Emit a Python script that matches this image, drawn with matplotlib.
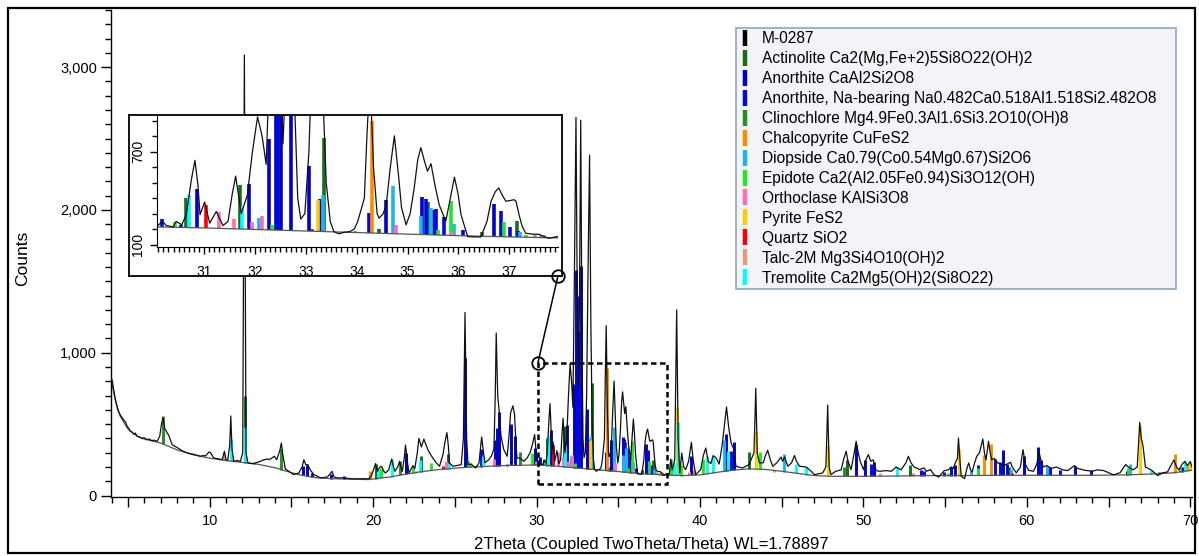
import numpy as np
import matplotlib
matplotlib.use('Agg')
import matplotlib.pyplot as plt
from matplotlib.patches import Rectangle, ConnectionPatch
from matplotlib.lines import Line2D
from matplotlib.ticker import MultipleLocator, FuncFormatter, FixedLocator

plt.rcParams['font.family'] = ['Liberation Sans', 'DejaVu Sans']

pattern_2theta = [
    3.96, 4.05, 4.12, 4.25, 4.37, 4.55, 4.73, 4.85, 4.95, 5.05, 5.14, 5.25, 5.35, 5.45, 5.55, 5.7, 5.85, 6.0,
    6.16, 6.3, 6.45, 6.6, 6.78, 6.94, 7.05, 7.14, 7.25, 7.39, 7.5, 7.7, 7.95, 8.1, 8.21, 8.35, 8.5, 8.65, 8.82,
    9.0, 9.1, 9.25, 9.43, 9.6, 9.75, 9.95, 10.05, 10.25, 10.5, 10.76, 10.9, 11.0, 11.1, 11.22, 11.29, 11.36,
    11.47, 11.7, 11.88, 12.02, 12.12, 12.22, 12.34, 12.5, 12.7, 12.9, 13.1, 13.3, 13.5, 13.65, 13.8, 13.95,
    14.1, 14.3, 14.38, 14.48, 14.63, 14.9, 15.14, 15.45, 15.65, 15.76, 15.88, 16.0, 16.15, 16.37, 16.78,
    17.2, 17.49, 17.6, 17.8, 18.2, 18.6, 19.0, 19.4, 19.73, 19.9, 20.05, 20.15, 20.25, 20.31, 20.42, 20.52,
    20.65, 20.76, 20.95, 21.13, 21.25, 21.33, 21.5, 21.62, 21.7, 21.78, 21.9, 21.98, 22.08, 22.19, 22.3,
    22.43, 22.55, 22.7, 22.8, 22.95, 23.1, 23.25, 23.35, 23.5, 23.65, 23.86, 24.06, 24.27, 24.4, 24.51,
    24.6, 24.67, 24.88, 25.1, 25.39, 25.52, 25.62, 25.72, 25.8, 26.0, 26.27, 26.48, 26.58, 26.64, 26.72,
    26.84, 27.08, 27.25, 27.39, 27.47, 27.53, 27.62, 27.72, 27.82, 27.99, 28.2, 28.3, 28.41, 28.55, 28.65,
    28.72, 28.8, 29.01, 29.22, 29.42, 29.6, 29.75, 29.88, 29.96, 30.04,
    30.09, 30.18, 30.26, 30.39, 30.45, 30.56, 30.65, 30.75, 30.82, 30.88, 30.92, 31.01, 31.11, 31.24,
    31.37, 31.47, 31.55, 31.62, 31.73, 31.85, 31.95, 32.05, 32.14, 32.22, 32.30, 32.41, 32.48, 32.55,
    32.62, 32.70, 32.78, 32.84, 32.90, 32.98, 33.06, 33.15, 33.24, 33.32, 33.40, 33.48, 33.55, 33.65,
    33.75, 33.86, 33.95, 34.02, 34.15, 34.20, 34.26, 34.33, 34.40, 34.44, 34.52, 34.58, 34.66, 34.74,
    34.82, 34.88, 34.97, 35.05, 35.13, 35.20, 35.26, 35.33, 35.39, 35.46, 35.54, 35.62, 35.75, 35.84,
    35.92, 35.99, 36.05, 36.18, 36.31, 36.44, 36.56, 36.64, 36.72, 36.79, 36.86, 36.93, 37.02, 37.09,
    37.13, 37.19, 37.25, 37.32, 37.45, 37.58, 37.70, 37.78, 37.93,
    38.11, 38.21, 38.3, 38.45, 38.57, 38.66, 38.76, 38.88, 39.0, 39.12, 39.3, 39.47, 39.58, 39.73, 40.04,
    40.2, 40.35, 40.5, 40.66, 40.8, 40.97, 41.17, 41.35, 41.5, 41.62, 41.75, 41.9, 42.05, 42.2, 42.6,
    43.0, 43.3, 43.41, 43.5, 43.63, 43.87, 44.0, 44.14, 44.3, 44.45, 44.7, 44.96, 45.05, 45.17, 45.37,
    45.6, 45.78, 45.9, 46.09, 46.5, 46.8, 47.0, 47.5, 47.7, 47.81, 47.9, 48.01, 48.3, 48.63, 48.8, 48.94,
    49.05, 49.24, 49.4, 49.55, 49.68, 49.8, 50.0, 50.15, 50.3, 50.45, 50.6, 50.77, 51.0, 51.4, 51.7,
    52.0, 52.3, 52.6, 52.75, 52.9, 53.1, 53.3, 53.42, 53.7, 53.85, 54.1, 54.3, 54.6, 54.95, 55.2, 55.36,
    55.5, 55.62, 55.75, 55.81, 55.9, 55.98, 56.19, 56.35, 56.44, 56.55, 56.65, 56.8, 56.93, 57.1, 57.3,
    57.4, 57.5, 57.65, 57.75, 57.85, 58.0, 58.2, 58.4, 58.6, 59.0, 59.1, 59.35, 59.6, 59.76, 59.9, 60.1,
    60.4, 60.6, 60.75, 60.85, 61.0, 61.2, 61.5, 61.8, 62.2, 62.5, 62.9, 63.1, 63.55, 64.0, 64.3, 64.7,
    65.0, 65.3, 65.7, 66.04, 66.2, 66.5, 66.75, 66.9, 67.0, 67.1, 67.25, 67.6, 68.0, 68.3, 68.6, 68.9,
    69.0, 69.15, 69.3, 69.5, 69.66, 69.8, 70.0, 70.1]
pattern_counts = [
    830, 800, 741, 660, 601, 560, 531, 515, 485, 470, 450, 445, 430, 438, 415, 410, 400, 405,
    392, 396, 385, 388, 380, 415, 500, 545, 470, 441, 420, 356, 340, 330, 321, 312, 305, 298, 293,
    290, 285, 282, 275, 280, 278, 305, 300, 263, 258, 251, 310, 250, 247, 350, 557, 330,
    240, 245, 240, 300, 3085, 300, 228, 226, 224, 232, 240, 250, 256, 252, 263, 275,
    251, 320, 367, 280, 186, 165, 147, 158, 200, 251, 215, 217, 180, 147, 124,
    130, 170, 130, 124, 124, 118, 117, 118, 117, 140, 190, 224, 170, 182, 200, 205,
    170, 158, 180, 256, 200, 170, 200, 240, 200, 170, 260, 354, 250, 158, 180,
    210, 190, 300, 401, 340, 395, 350, 321, 290, 263, 229, 205, 287, 380, 441,
    350, 229, 205, 210, 217, 400, 1282, 400, 217, 220, 193, 229, 350, 410, 330,
    229, 252, 280, 330, 700, 1138, 700, 578, 420, 322, 275, 400, 580, 629, 570,
    400, 263, 260, 240, 263, 300, 360, 427, 320, 263,
    223, 250, 223, 215, 250, 228, 293, 520, 644, 480, 293, 375, 239, 314,
    223, 250, 420, 542, 300, 420, 700, 925, 800, 618, 1400, 2649, 1500, 750,
    1300, 2628, 1000, 400, 265, 300, 700, 1600, 2383, 1200, 500, 250, 184, 170,
    180, 184, 200, 250, 400, 800, 1190, 600, 300, 271, 300, 358, 600, 802,
    550, 340, 228, 300, 466, 650, 726, 640, 574, 622, 480, 358, 250, 400,
    535, 430, 293, 152, 150, 150, 250, 380, 440, 466, 420, 380, 385, 390,
    380, 293, 220, 174, 168, 167, 150, 141, 152,
    147, 256, 180, 250, 1300, 400, 158, 298, 200, 182, 240, 373, 250, 147, 182,
    280, 333, 240, 224, 280, 266, 221, 350, 500, 620, 480, 368, 330, 205, 193,
    217, 300, 751, 300, 228, 230, 280, 317, 250, 205, 230, 270, 240, 270, 205,
    230, 280, 240, 205, 200, 170, 147, 158, 200, 634, 200, 147, 170, 180, 260, 310,
    240, 182, 280, 380, 300, 240, 182, 250, 287, 240, 250, 175, 170, 175, 170,
    200, 180, 230, 275, 230, 200, 190, 182, 193, 170, 182, 147, 130, 175, 180, 200,
    190, 230, 260, 403, 250, 135, 119, 200, 228, 180, 165, 230, 275, 300, 396,
    300, 250, 380, 300, 250, 260, 230, 220, 210, 233, 200, 159, 200, 322, 220, 177,
    170, 220, 300, 250, 200, 210, 190, 200, 180, 175, 210, 190, 177, 170, 180, 175,
    160, 145, 160, 217, 200, 180, 200, 513, 400, 349, 200, 180, 140, 160, 165, 230,
    250, 200, 180, 220, 240, 210, 238, 200]

background_2theta = [3.96, 4.2, 4.5, 5.0, 5.5, 6.0, 7.0, 8.0, 9.0, 10.0, 11.0, 12.0, 13.0, 14.0, 14.7,
                     15.5, 16.5, 17.5, 18.5, 19.7, 21.0, 22.0, 23.0, 24.0, 25.0, 26.0, 27.0, 28.0,
                     29.0, 30.0, 31.0, 32.0, 33.0, 34.0, 35.0, 36.0, 37.0, 38.0, 39.0, 40.0, 41.0,
                     42.0, 43.0, 44.0, 45.0, 46.0, 47.0, 48.0, 50.0, 52.0, 54.0, 56.0, 58.0, 60.0,
                     62.0, 64.0, 66.0, 68.0, 69.0, 70.1]
background_counts = [820, 680, 560, 465, 420, 395, 368, 320, 285, 262, 245, 232, 218, 195, 170,
                     145, 125, 118, 115, 112, 130, 150, 168, 182, 192, 200, 205, 210,
                     212, 215, 208, 198, 188, 178, 168, 158, 150, 143, 140, 145, 162,
                     178, 187, 183, 170, 155, 140, 135, 135, 137, 140, 140, 142, 142,
                     142, 142, 145, 152, 160, 178]

# ---------------- phase stick patterns (2theta, top counts) ----------------
actinolite_2theta = [12.14, 20.15, 22.9, 24.57, 28.17, 30.64, 31.70, 33.13, 33.36, 34.44, 35.41, 36.47,
                     37.15, 43.00, 49.00, 52.85, 58.90]
actinolite_counts = [694, 224, 280, 294, 224, 401, 488, 202, 790, 202, 375, 180, 250, 303, 250, 217, 200]

anorthite_2theta = [15.70, 15.97, 17.45, 22.02, 25.62, 27.43, 27.59, 27.71, 28.41, 28.65, 29.90, 30.86,
                    31.88, 32.28, 32.41, 32.52, 32.70, 33.07, 34.58, 35.28, 35.52, 36.70, 39.47, 41.58,
                    42.10, 49.55, 50.67, 55.62, 58.53, 59.82, 60.70, 62.93]
anorthite_counts = [204, 211, 150, 295, 963, 392, 473, 583, 503, 420, 334, 462,
                    492, 780, 1577, 1150, 1605, 607, 390, 409, 325, 364, 280, 433,
                    373, 357, 233, 214, 317, 275, 340, 207]

anorthite_na_2theta = [16.27, 18.20, 22.30, 26.58, 30.18, 30.54, 32.46, 33.27, 34.24, 35.37, 35.56, 35.71,
                       36.08, 36.84, 37.01, 37.17, 41.90, 50.12, 50.43, 53.50, 53.70, 54.95, 55.36,
                       56.99, 58.02, 58.33, 58.80, 60.85, 61.40, 62.00, 63.90, 66.10, 68.10, 69.50]
anorthite_na_counts = [160, 135, 160, 329, 267, 228, 1400, 397, 304, 397, 330, 278,
                       195, 319, 215, 189, 310, 252, 220, 180, 175, 165, 200,
                       216, 256, 233, 220, 250, 200, 180, 180, 175, 165, 200]

clinochlore_2theta = [7.14, 14.38, 21.62, 29.01, 48.82]
clinochlore_counts = [555, 325, 240, 303, 200]

chalcopyrite_2theta = [19.80, 34.30, 39.63, 57.40, 57.82, 69.05, 69.87]
chalcopyrite_counts = [170, 895, 182, 287, 363, 293, 223]

diopside_2theta = [32.08, 33.33, 34.72, 35.27, 35.45, 35.92, 37.20, 41.48, 45.13, 56.60, 59.00, 61.20, 66.29]
diopside_counts = [275, 418, 477, 282, 336, 234, 184, 387, 294, 175, 185, 205, 221]

epidote_2theta = [12.70, 20.48, 22.43, 23.54, 25.80, 25.95, 29.69, 30.43, 32.34, 33.96, 35.59, 35.86,
                  36.89, 37.33, 37.62, 38.21, 38.82, 40.21, 43.66, 55.20, 57.00, 66.17, 69.35]
epidote_counts = [233, 193, 210, 229, 240, 230, 298, 245, 228, 185, 195, 380,
                  243, 163, 163, 256, 217, 256, 303, 160, 190, 190, 190]

orthoclase_2theta = [15.40, 24.43, 26.27, 27.39, 29.94, 31.30, 31.59, 31.94, 32.14, 34.77, 35.87, 37.50,
                     37.69, 39.30, 53.00]
orthoclase_counts = [160, 240, 200, 256, 240, 308, 267, 243, 282, 228, 180, 160, 163, 165, 160]

pyrite_2theta = [33.24, 38.62, 43.43, 47.81, 55.83, 66.90, 70.00]
pyrite_counts = [390, 617, 454, 345, 329, 497, 228]

quartz_2theta = [24.30, 31.03, 59.09]
quartz_counts = [210, 353, 160]

talc_2theta = [10.90, 22.60, 44.50, 51.00]
talc_counts = [300, 175, 165, 155]

tremolite_2theta = [11.31, 12.14, 20.28, 21.17, 22.86, 24.62, 26.74, 30.71, 31.75, 38.41, 38.68, 40.45,
                    40.80, 41.69, 45.88, 46.50, 52.04, 67.60, 69.66]
tremolite_counts = [398, 481, 189, 259, 252, 229, 280, 418, 351, 228, 512, 275,
                    270, 315, 221, 200, 198, 180, 244]

legend_labels = ["M-0287",
                 "Actinolite Ca2(Mg,Fe+2)5Si8O22(OH)2",
                 "Anorthite CaAl2Si2O8",
                 "Anorthite, Na-bearing Na0.482Ca0.518Al1.518Si2.482O8    ",
                 "Clinochlore Mg4.9Fe0.3Al1.6Si3.2O10(OH)8",
                 "Chalcopyrite CuFeS2",
                 "Diopside Ca0.79(Co0.54Mg0.67)Si2O6",
                 "Epidote Ca2(Al2.05Fe0.94)Si3O12(OH)",
                 "Orthoclase KAlSi3O8",
                 "Pyrite FeS2",
                 "Quartz SiO2",
                 "Talc-2M Mg3Si4O10(OH)2",
                 "Tremolite Ca2Mg5(OH)2(Si8O22)"]
legend_colors = ['#000000', '#1a6b1a', '#0000cc', '#0008dd', '#2a8a2a', '#ff8c00', '#1eb4f0',
                 '#22e622', '#ff6eb4', '#ffcc00', '#ff0000', '#e89880', '#00ffff']

phase_x = [actinolite_2theta, anorthite_2theta, anorthite_na_2theta, clinochlore_2theta,
           chalcopyrite_2theta, diopside_2theta, epidote_2theta, orthoclase_2theta,
           pyrite_2theta, quartz_2theta, talc_2theta, tremolite_2theta]
phase_y = [actinolite_counts, anorthite_counts, anorthite_na_counts, clinochlore_counts,
           chalcopyrite_counts, diopside_counts, epidote_counts, orthoclase_counts,
           pyrite_counts, quartz_counts, talc_counts, tremolite_counts]

inset_xlim = (30.08, 37.95)
inset_ylim = (83, 930)

W, H = 1199, 556
fig = plt.figure(figsize=(W / 100, H / 100), dpi=100)


def fx(px):
    return px / W


def fy(py):
    return 1 - py / H


def draw(axis, lw_bar, lw_line):
    for xs, ys, c in zip(phase_x, phase_y, legend_colors[1:]):
        xs = np.asarray(xs)
        bottoms = np.interp(xs, background_2theta, background_counts)
        axis.vlines(xs, bottoms, ys, colors=c, linewidth=lw_bar, zorder=2)
    axis.plot(background_2theta, background_counts, color='#555555', lw=0.9, zorder=2.5)
    axis.plot(pattern_2theta, pattern_counts, color='#111111', lw=lw_line, zorder=3)


# ---------------- main axes ----------------
ax = fig.add_axes([fx(111), fy(497), fx(1192 - 111), (497 - 10) / H])
draw(ax, 2.1, 0.9)
ax.set_xlim(3.96, 70.1)
ax.set_ylim(-10, 3400)
for s in ['top', 'right']:
    ax.spines[s].set_visible(False)
for s in ['left', 'bottom']:
    ax.spines[s].set_linewidth(1.0)
ax.xaxis.set_major_locator(MultipleLocator(5))
ax.xaxis.set_minor_locator(MultipleLocator(1))
ax.xaxis.set_major_formatter(FuncFormatter(lambda v, p: f'{int(round(v))}' if round(v) % 10 == 0 else ''))
ax.yaxis.set_major_locator(FixedLocator([0, 1000, 2000, 3000]))
ax.yaxis.set_minor_locator(FixedLocator(np.arange(0, 3401, 100)))
ax.yaxis.set_major_formatter(FuncFormatter(lambda v, p: f'{int(v):,}'))
ax.tick_params(axis='both', which='major', direction='out', length=7, width=1, labelsize=10.5, pad=3)
ax.tick_params(axis='both', which='minor', direction='out', length=4, width=1)
ax.tick_params(axis='x', which='major', pad=5)
ax.set_xlabel('2Theta (Coupled TwoTheta/Theta) WL=1.78897', fontsize=12)
ax.set_ylabel('Counts', fontsize=12.5)
ax.xaxis.set_label_coords(0.5, -0.083)
ax.yaxis.set_label_coords(-0.075, 0.49)

# dashed zoom box
ax.add_patch(Rectangle((inset_xlim[0], inset_ylim[0]), inset_xlim[1] - inset_xlim[0],
                       inset_ylim[1] - inset_ylim[0], fill=False, ec='black', lw=1.8,
                       ls=(0, (2.2, 1.4)), zorder=5))

# ---------------- inset ----------------
box = fig.add_axes([fx(129), fy(276), fx(562 - 129), (276 - 115) / H], zorder=5)
box.set_xticks([])
box.set_yticks([])
box.set_facecolor('white')
for s in box.spines.values():
    s.set_linewidth(1.3)

axin = fig.add_axes([fx(157.3), fy(247.3), fx(557.7 - 157.3), (247.3 - 116) / H], zorder=6)
axin.patch.set_alpha(0)
draw(axin, 2.6, 0.9)
axin.set_xlim(*inset_xlim)
axin.set_ylim(*inset_ylim)
axin.spines['top'].set_visible(False)
axin.spines['right'].set_visible(False)
axin.xaxis.set_major_locator(MultipleLocator(1))
axin.xaxis.set_minor_locator(MultipleLocator(0.1))
axin.yaxis.set_major_locator(FixedLocator([100, 700]))
axin.yaxis.set_minor_locator(FixedLocator(np.arange(100, 901, 100)))
axin.tick_params(axis='both', which='major', direction='out', length=5, width=1, labelsize=10)
axin.tick_params(axis='both', which='minor', direction='out', length=3.5, width=1)
axin.tick_params(axis='x', which='major', pad=8)
axin.tick_params(axis='y', which='major', labelrotation=90, pad=4)
for lab in axin.get_yticklabels():
    lab.set_va('center')

# connector with circles
pA = (fx(558), fy(275.7))
con = ConnectionPatch(xyA=pA, coordsA=fig.transFigure,
                      xyB=(inset_xlim[0], inset_ylim[1]), coordsB=ax.transData,
                      color='black', lw=1.1, zorder=7)
fig.add_artist(con)
fig.add_artist(Line2D([pA[0]], [pA[1]], transform=fig.transFigure, marker='o', ms=9,
                      mfc='none', mec='black', mew=1.3, zorder=8))
ax.plot([inset_xlim[0]], [inset_ylim[1]], marker='o', ms=9, mfc='none', mec='black',
        mew=1.3, zorder=8, clip_on=False)

# ---------------- legend ----------------
handles = [Line2D([], [], color=c, marker='|', linestyle='None', markersize=11.5,
                  markeredgewidth=3.2) for c in legend_colors]
leg = fig.legend(handles, legend_labels, loc='upper left', bbox_to_anchor=(fx(736), fy(28)),
                 bbox_transform=fig.transFigure, fontsize=11.2, frameon=True, fancybox=False,
                 borderaxespad=0, borderpad=0.2, labelspacing=0.32, handlelength=0.8,
                 handletextpad=0.65, framealpha=1)
leg.get_frame().set_facecolor('#f3f4f7')
leg.get_frame().set_edgecolor('#8fa5c4')
leg.get_frame().set_linewidth(1.2)
leg.set_zorder(10)

# figure frame
fig.add_artist(Rectangle((fx(8), fy(553)), fx(1195 - 8), (553 - 8) / H, transform=fig.transFigure,
                         fill=False, ec='black', lw=1.6, zorder=20))

fig.savefig('out.png', dpi=100)
